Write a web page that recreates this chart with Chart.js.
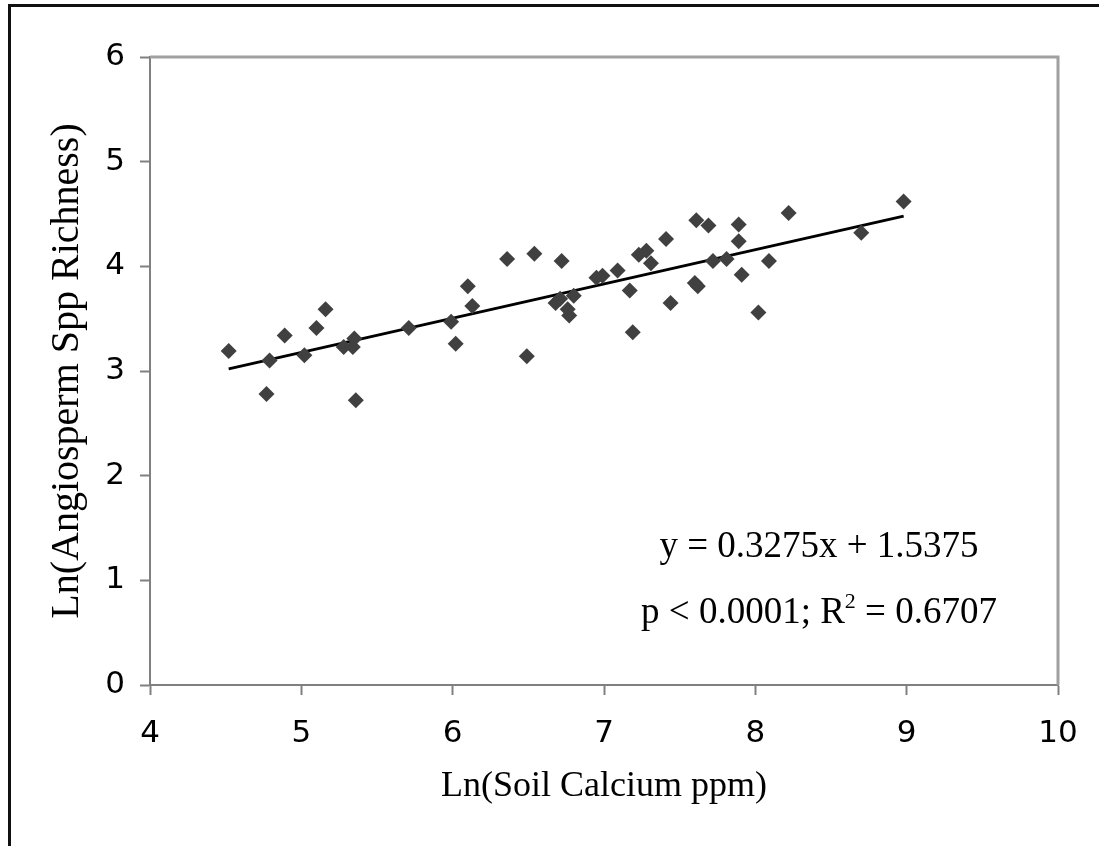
<!DOCTYPE html>
<html>
<head>
<meta charset="utf-8">
<script src="https://cdn.jsdelivr.net/npm/chart.js@4.4.1/dist/chart.umd.min.js"></script>
<style>
  html, body { margin: 0; padding: 0; background: #fff; overflow: hidden; }
  #frame {
    position: absolute; left: 8px; top: 4px; width: 1200px; height: 900px;
    border-top: 3px solid #111; border-left: 3px solid #111;
  }
  #chart { position: absolute; left: 0; top: 0; }
  .eq {
    position: absolute; width: 420px; text-align: center;
    font-family: "Liberation Serif", "Times New Roman", serif;
    font-size: 37px; line-height: 37px; color: #000; white-space: nowrap;
  }
  .eq .sup { font-size: 22px; vertical-align: 15px; line-height: 0; }
</style>
</head>
<body>
<div id="frame"></div>
<canvas id="chart" width="1099" height="846"></canvas>
<div class="eq" id="eqLine" style="left:609px; top:526px;">y = 0.3275x + 1.5375</div>
<div class="eq" id="statLine" style="left:609px; top:592px;">p &lt; 0.0001; R<span class="sup">2</span> = 0.6707</div>

<script>
"use strict";

// Ln(Soil Calcium ppm)
const calcium = [
    4.52, 4.77, 4.79, 4.89, 5.02, 5.10, 5.16, 5.28, 5.35, 5.34,
    5.36, 5.71, 5.99, 6.02, 6.10, 6.13, 6.36, 6.49, 6.54, 6.68,
    6.71, 6.72, 6.76, 6.77, 6.80, 6.95, 6.99, 7.09, 7.17, 7.19,
    7.23, 7.28, 7.31, 7.41, 7.44, 7.60, 7.62, 7.61, 7.69, 7.72,
    7.81, 7.89, 7.89, 7.91, 8.02, 8.09, 8.22, 8.70, 8.98
];
// Ln(Angiosperm Spp Richness)
const richness = [
    3.19, 2.78, 3.10, 3.34, 3.15, 3.41, 3.59, 3.23, 3.31, 3.23,
    2.72, 3.41, 3.47, 3.26, 3.81, 3.62, 4.07, 3.14, 4.12, 3.65,
    3.69, 4.05, 3.59, 3.53, 3.72, 3.89, 3.91, 3.96, 3.77, 3.37,
    4.11, 4.15, 4.03, 4.26, 3.65, 3.84, 3.81, 4.44, 4.39, 4.05,
    4.07, 4.40, 4.24, 3.92, 3.56, 4.05, 4.51, 4.32, 4.62
];

// fitted line end points
const trendX = [4.52, 8.98];
const trendY = [3.02, 4.48];

const xTicks = [4, 5, 6, 7, 8, 9, 10];
const yTicks = [0, 1, 2, 3, 4, 5, 6];

const AXIS_GRAY = "#808080";

const plotBorder = {
    id: "plotBorder",
    afterDatasetsDraw(chart) {
        const { ctx, chartArea: a } = chart;
        ctx.save();
        ctx.strokeStyle = "#a0a0a0";
        ctx.lineWidth = 3;
        ctx.beginPath();
        ctx.moveTo(a.left, a.top);
        ctx.lineTo(a.right, a.top);
        ctx.lineTo(a.right, a.bottom);
        ctx.stroke();
        ctx.restore();
    }
};

const ctx = document.getElementById("chart").getContext("2d");

new Chart(ctx, {
    type: "scatter",
    data: {
        datasets: [
            {
                label: "Species",
                data: calcium.map((x, i) => ({ x: x, y: richness[i] })),
                pointStyle: "rectRot",
                pointRadius: 8,
                pointHoverRadius: 8,
                backgroundColor: "#404040",
                borderColor: "#404040",
                borderWidth: 0
            },
            {
                label: "Trend",
                type: "line",
                data: trendX.map((x, i) => ({ x: x, y: trendY[i] })),
                borderColor: "#000",
                borderWidth: 3,
                pointRadius: 0,
                fill: false
            }
        ]
    },
    options: {
        responsive: false,
        animation: false,
        layout: { padding: { left: 0, top: 57, right: 41, bottom: 0 } },
        plugins: {
            legend: { display: false },
            tooltip: { enabled: false }
        },
        scales: {
            x: {
                type: "linear",
                min: 4,
                max: 10,
                afterBuildTicks: (scale) => { scale.ticks = xTicks.map(v => ({ value: v })); },
                afterFit: (scale) => { scale.height = 161; },
                border: { color: AXIS_GRAY, width: 2 },
                grid: { drawOnChartArea: false, tickLength: 10, color: AXIS_GRAY, tickWidth: 2 },
                ticks: {
                    color: "#000",
                    padding: 20,
                    font: { family: "DejaVu Sans", size: 31 }
                },
                title: {
                    display: true,
                    text: "Ln(Soil Calcium ppm)",
                    color: "#000",
                    font: { family: "Liberation Serif", size: 36 },
                    padding: { top: 0, bottom: 38 }
                }
            },
            y: {
                type: "linear",
                min: 0,
                max: 6,
                afterBuildTicks: (scale) => { scale.ticks = yTicks.map(v => ({ value: v })); },
                afterFit: (scale) => { scale.width = 150; },
                border: { color: AXIS_GRAY, width: 2 },
                grid: { drawOnChartArea: false, tickLength: 10, color: AXIS_GRAY, tickWidth: 2 },
                ticks: {
                    color: "#000",
                    padding: 15,
                    font: { family: "DejaVu Sans", size: 31 }
                },
                title: {
                    display: true,
                    text: "Ln(Angiosperm Spp Richness)",
                    color: "#000",
                    font: { family: "Liberation Serif", size: 40 },
                    padding: { top: 43, bottom: 0 }
                }
            }
        }
    },
    plugins: [plotBorder]
});
</script>
</body>
</html>
